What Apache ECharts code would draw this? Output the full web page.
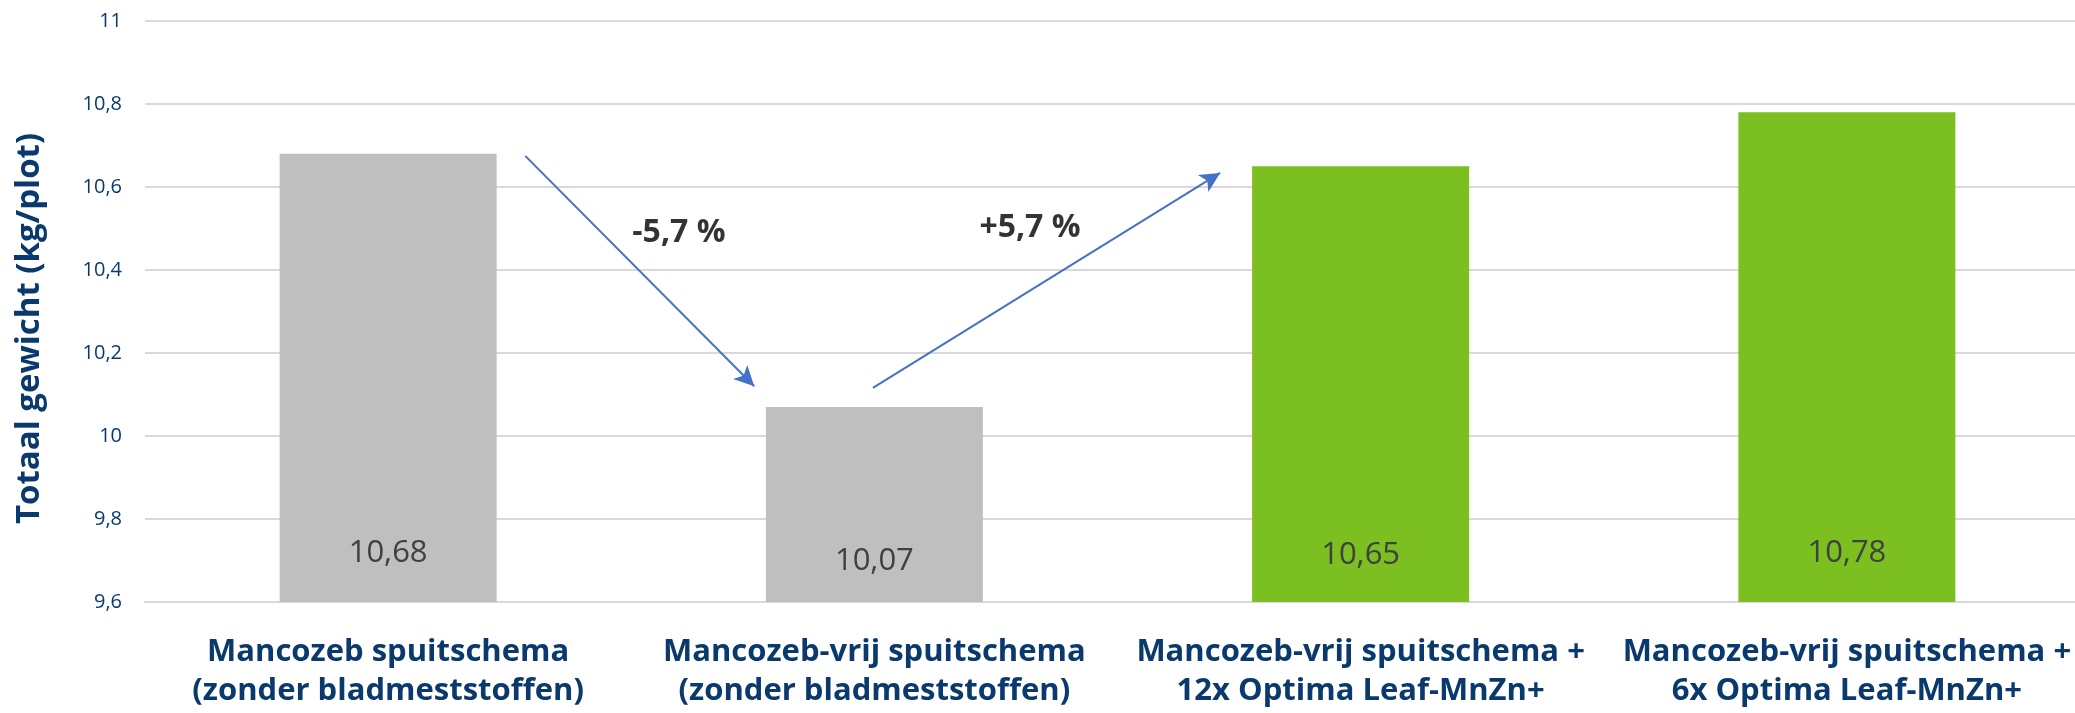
<!DOCTYPE html>
<html>
<head>
<meta charset="utf-8">
<script src="https://cdn.jsdelivr.net/npm/echarts@6/dist/echarts.min.js"></script>
<style>
html,body{margin:0;padding:0;background:#fff;overflow:hidden;width:2075px;height:713px;}
#chart{width:2090px;height:713px;}
</style>
</head>
<body>
<div id="chart"></div>
<script>
const categories = [
  'Mancozeb spuitschema\n(zonder bladmeststoffen)',
  'Mancozeb-vrij spuitschema\n(zonder bladmeststoffen)',
  'Mancozeb-vrij spuitschema +\n12x Optima Leaf-MnZn+',
  'Mancozeb-vrij spuitschema +\n6x Optima Leaf-MnZn+'
];
const values = [10.68, 10.07, 10.65, 10.78];
const barColors = ['#BFBFBF', '#BFBFBF', '#7BBF21', '#7BBF21'];
const labelDistances = [33, 25, 31, 33];
const tickValues = [9.6, 9.8, 10, 10.2, 10.4, 10.6, 10.8, 11];
const tickLabels = ['9,6', '9,8', '10', '10,2', '10,4', '10,6', '10,8', '11'];
const yAxisName = 'Totaal gewicht (kg/plot)';
// annotations in data space (x: category index, y: value)
const arrowDown = [[0.282, 10.675], [0.753, 10.12]];
const arrowUp = [[0.997, 10.116], [1.711, 10.634]];
const changeLabels = [
  { text: '-5,7 %', pos: [0.598, 10.489] },
  { text: '+5,7 %', pos: [1.320, 10.501] }
];

const navy = '#0A3A6D';
const chart = echarts.init(document.getElementById('chart'), null, { renderer: 'canvas' });

const fmtTick = v => {
  const i = tickValues.findIndex(t => Math.abs(t - v) < 1e-6);
  return i >= 0 ? tickLabels[i] : '';
};

chart.setOption({
  animation: false,
  backgroundColor: '#ffffff',
  grid: { left: 145, top: 21, right: 0, bottom: 111, containLabel: false },
  xAxis: [
    {
      type: 'category',
      data: categories,
      axisLine: { show: true, lineStyle: { color: '#D9D9D9', width: 2 } },
      axisTick: { show: false },
      axisLabel: {
        interval: 0,
        margin: 31,
        color: navy,
        fontFamily: 'Open Sans',
        fontWeight: 'bold',
        fontSize: 31,
        lineHeight: 39,
        align: 'center'
      }
    },
    {
      type: 'value',
      min: -0.5,
      max: 3.5,
      show: false
    }
  ],
  yAxis: {
    type: 'value',
    min: 9.6,
    max: 11,
    interval: 0.2,
    name: yAxisName,
    nameLocation: 'middle',
    nameGap: 99,
    nameTextStyle: {
      color: navy, fontFamily: 'Open Sans', fontWeight: 'bold', fontSize: 33,
      padding: [0, 34, 0, 0]
    },
    axisLine: { show: false },
    axisTick: { show: false },
    axisLabel: {
      margin: 23,
      color: navy,
      fontFamily: 'Open Sans',
      fontSize: 20,
      formatter: fmtTick
    },
    splitLine: { show: true, lineStyle: { color: '#D9D9D9', width: 2 } }
  },
  series: [
    {
      type: 'bar',
      xAxisIndex: 0,
      barWidth: 217,
      data: values.map((v, i) => ({
        value: v,
        itemStyle: { color: barColors[i] },
        label: { distance: labelDistances[i] }
      })),
      label: {
        show: true,
        position: 'insideBottom',
        distance: 32,
        color: '#404040',
        fontFamily: 'Open Sans',
        fontSize: 31,
        formatter: p => String(p.value).replace('.', ',')
      }
    },
    {
      type: 'scatter',
      xAxisIndex: 1,
      symbolSize: 0,
      silent: true,
      data: changeLabels.map(c => ({ value: c.pos, name: c.text })),
      label: {
        show: true,
        position: 'inside',
        formatter: p => p.name,
        color: '#000000',
        fontFamily: 'Open Sans',
        fontWeight: 'bold',
        fontSize: 32
      },
      markLine: {
        silent: true,
        symbol: ['none', 'arrow'],
        symbolSize: [15, 20],
        label: { show: false },
        lineStyle: { color: '#4472C4', width: 2, type: 'solid' },
        data: [
          [{ coord: arrowDown[0] }, { coord: arrowDown[1] }],
          [{ coord: arrowUp[0] }, { coord: arrowUp[1] }]
        ]
      }
    }
  ]
});
</script>
</body>
</html>
